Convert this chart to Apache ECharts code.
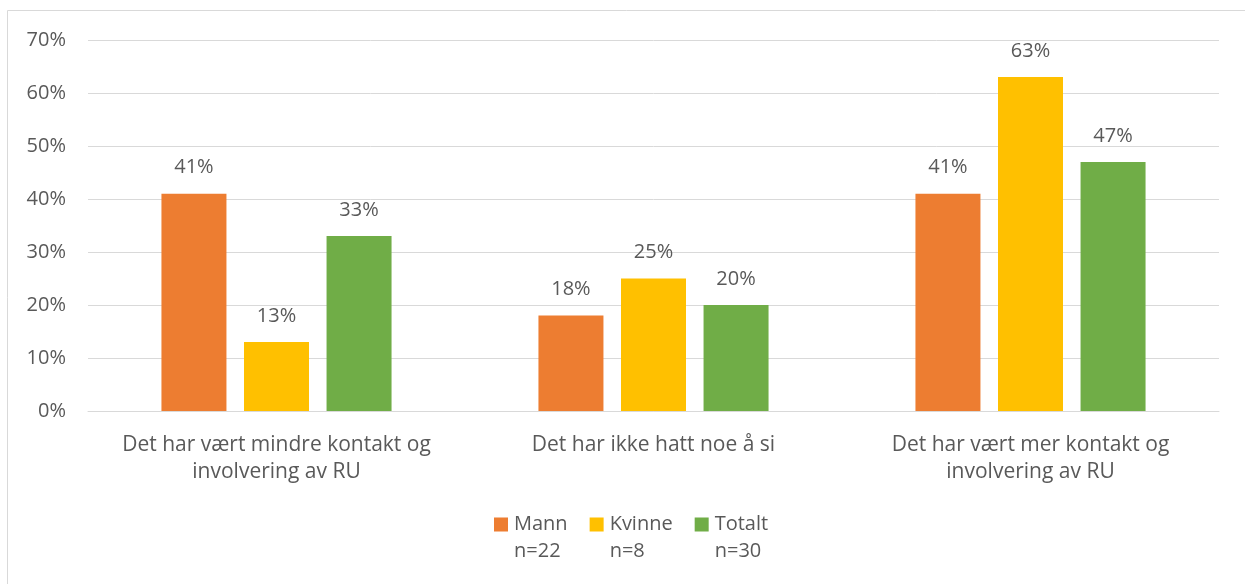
<!DOCTYPE html>
<html><head><meta charset="utf-8">
<script src="https://cdn.jsdelivr.net/npm/echarts@6/dist/echarts.min.js"></script>
<style>html,body{margin:0;padding:0;background:#fff}#c{width:1245px;height:584px}</style>
</head><body><div id="c"></div>
<script>
const categories = ["Det har vært mindre kontakt og\ninvolvering av RU", "Det har ikke hatt noe å si", "Det har vært mer kontakt og\ninvolvering av RU"];
const seriesNames = ["Mann\nn=22", "Kvinne\nn=8", "Totalt\nn=30"];
const mann = [41, 18, 41];
const kvinne = [13, 25, 63];
const totalt = [33, 20, 47];
const yTicks = [0, 10, 20, 30, 40, 50, 60, 70];
const colors = ["#ED7D31", "#FFC000", "#70AD47"];
const FONT = "Open Sans";
const TXT = "#595959";

const chart = echarts.init(document.getElementById('c'));
const legendIcon = 'path://M0,0 L14,0 L14,14 L0,14 Z M0,41 L0.001,41 L0,41.001 Z';
const mk = (name, data, color) => ({
  name, type: 'bar', data, barWidth: 65, barGap: '27%',
  itemStyle: { color },
  label: { show: true, position: 'top', distance: 16, formatter: '{c}%', color: TXT, fontFamily: FONT, fontSize: 20 }
});
chart.setOption({
  animation: false,
  textStyle: { fontFamily: FONT },
  graphic: [{ type: 'rect', shape: { x: 7.5, y: 10.5, width: 1260, height: 600 }, style: { fill: 'none', stroke: '#d9d9d9', lineWidth: 1 }, silent: true }],
  grid: { left: 88, right: 26, top: 40, bottom: 173, containLabel: false },
  legend: {
    bottom: 14, left: 489, itemWidth: 14, itemHeight: 41, itemGap: 22,
    icon: legendIcon,
    textStyle: { color: TXT, fontFamily: FONT, fontSize: 20, lineHeight: 27, padding: [0, 0, 0, 1] },
    data: seriesNames
  },
  xAxis: {
    type: 'category', data: categories,
    axisLine: { lineStyle: { color: '#d9d9d9' } }, axisTick: { show: false },
    axisLabel: { color: TXT, fontFamily: FONT, fontSize: 21, lineHeight: 27, margin: 21, interval: 0 }
  },
  yAxis: {
    type: 'value', min: 0, max: 70, interval: 10,
    axisLabel: { formatter: v => yTicks.includes(v) ? v + '%' : '', color: TXT, fontFamily: FONT, fontSize: 20, margin: 22 },
    splitLine: { lineStyle: { color: '#d9d9d9' } }, axisLine: { show: false }, axisTick: { show: false }
  },
  series: [mk(seriesNames[0], mann, colors[0]), mk(seriesNames[1], kvinne, colors[1]), mk(seriesNames[2], totalt, colors[2])]
});
</script></body></html>
